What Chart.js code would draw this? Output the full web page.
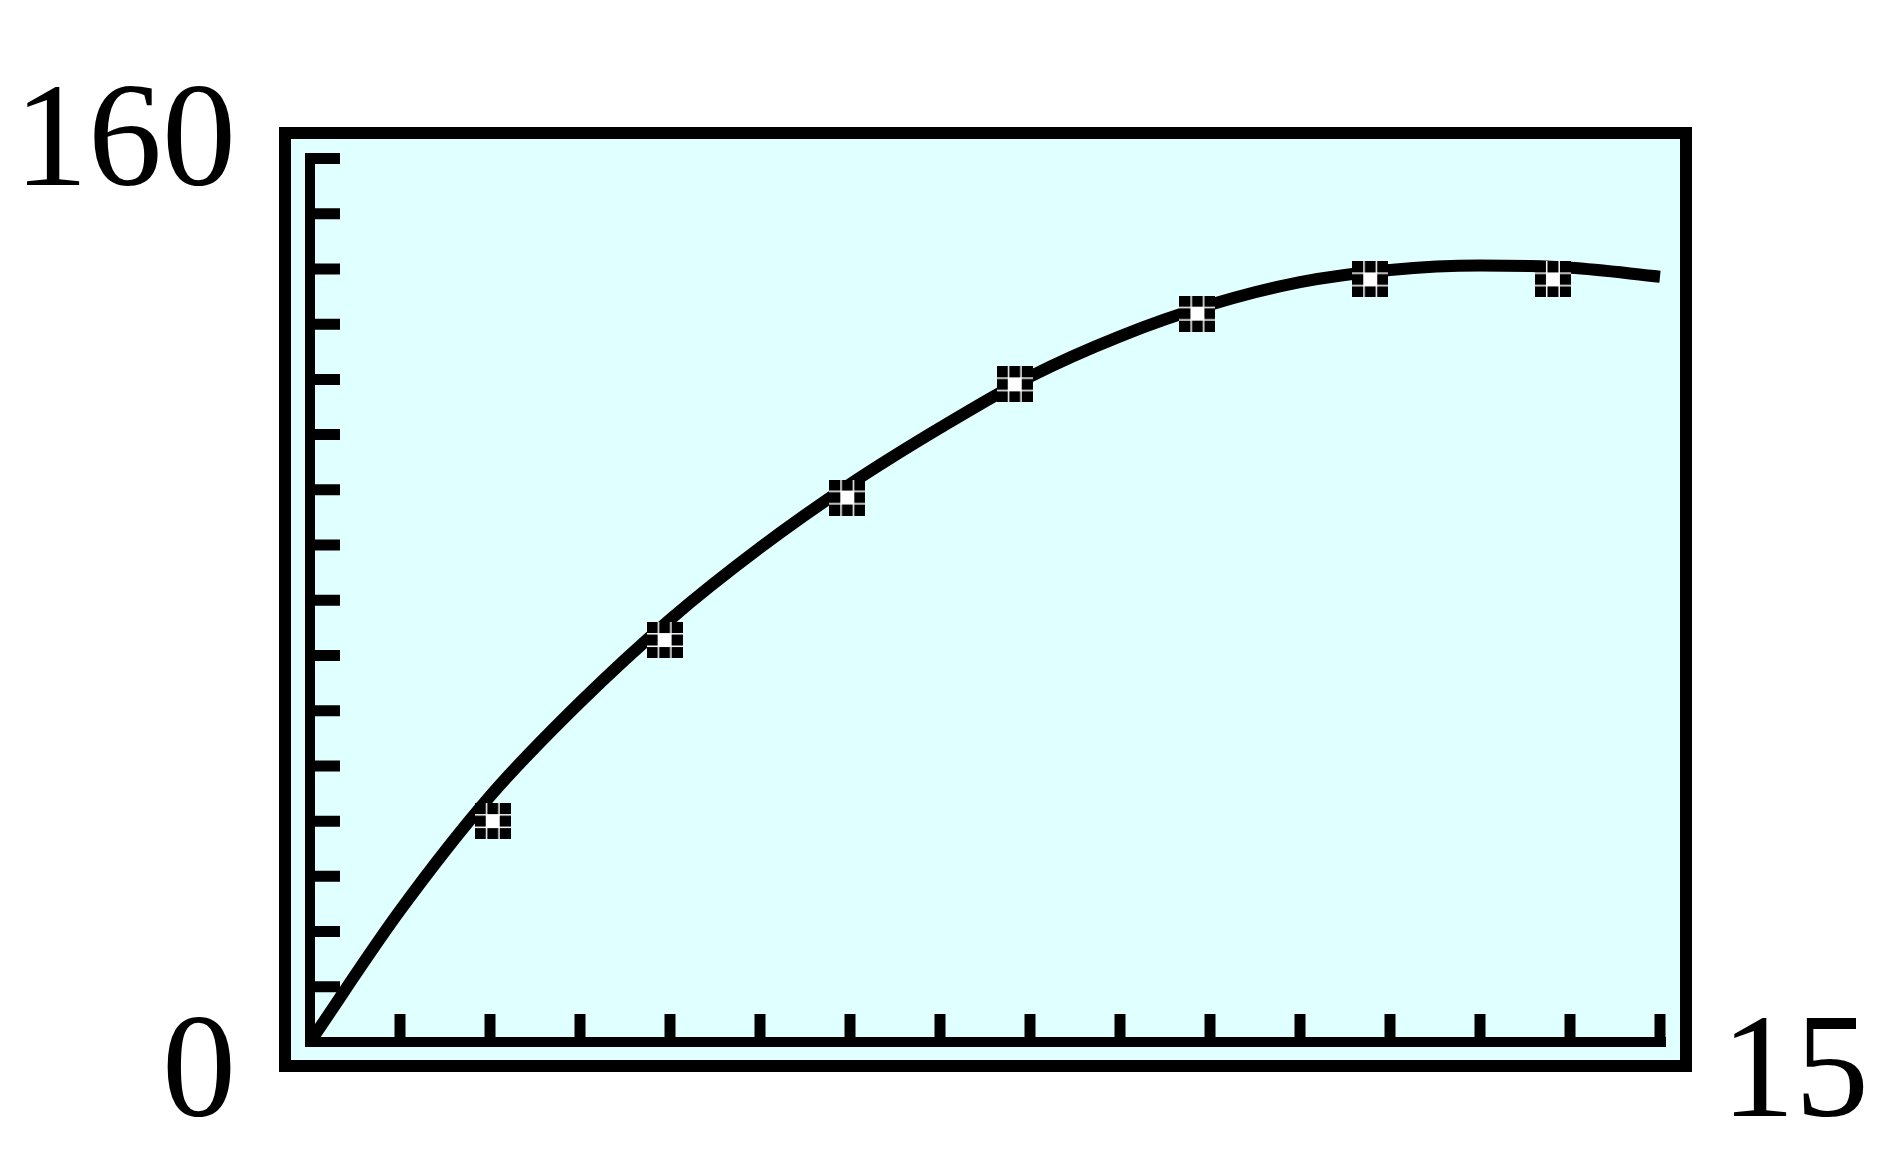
<!DOCTYPE html>
<html>
<head>
<meta charset="utf-8">
<script src="https://cdn.jsdelivr.net/npm/chart.js@4/dist/chart.umd.min.js"></script>
<style>
  html, body { margin: 0; padding: 0; background: #ffffff; }
  #wrap { width: 1890px; height: 1170px; }
  #fontprobe { position: absolute; left: -9999px; top: 0; font: 148px "Liberation Serif"; }
</style>
</head>
<body>
<span id="fontprobe">0156</span>
<div id="wrap"><canvas id="chart" width="1890" height="1170"></canvas></div>
<script>
// Fenster (Xmin/Xmax, Ymin/Ymax) wie auf dem Rechner
const xWindow = [0, 15];
const yWindow = [0, 160];

// Teilstriche: x alle 1, y alle 10
const xTickValues = [1, 2, 3, 4, 5, 6, 7, 8, 9, 10, 11, 12, 13, 14, 15];
const yTickValues = [10, 20, 30, 40, 50, 60, 70, 80, 90, 100, 110, 120, 130, 140, 150, 160];

// Messpunkte
const pointX = [2.03, 3.94, 5.97, 7.83, 9.86, 11.78, 13.81];
const pointY = [40, 72.8, 98.6, 119.1, 131.9, 138.1, 138.1];

const curveX = [0, 1, 2, 3, 4, 5, 6, 7, 8, 9, 10, 11, 12, 13, 14, 15];
const curveY = [0, 23.8, 44.5, 61.5, 76.5, 89.5, 101, 111.2, 120.5, 127.8, 133.5, 137.6, 139.8, 140.6, 140.2, 138.6];

const serif = '148px "Liberation Serif", "Times New Roman", serif';

// Marker: 3x3 Kästchen, Mitte weiß
function makeMarker() {
    const c = document.createElement('canvas');
    c.width = 36; c.height = 36;
    const g = c.getContext('2d');
    g.fillStyle = '#ffffff';
    g.fillRect(0, 0, 36, 36);
    g.fillStyle = '#000000';
    for (let r = 0; r < 3; r++) {
        for (let k = 0; k < 3; k++) {
            if (r === 1 && k === 1) continue;
            g.fillRect(k * 12.5, r * 12.5, 11, 11);
        }
    }
    return c;
}

const frame = {
    id: 'frame',
    beforeDatasetsDraw(chart) {
        const ctx = chart.ctx;
        const xs = chart.scales.x, ys = chart.scales.y;
        const x0 = xs.getPixelForValue(xWindow[0]);
        const x1 = xs.getPixelForValue(xWindow[1]);
        const y0 = ys.getPixelForValue(yWindow[0]);
        const y1 = ys.getPixelForValue(yWindow[1]);
        ctx.save();

        // Rahmen mit hellem Cyan
        ctx.fillStyle = '#e0ffff';
        ctx.fillRect(285, 133, 1401, 933);
        ctx.strokeStyle = '#000';
        ctx.lineWidth = 12;
        ctx.strokeRect(285, 133, 1401, 933);

        // Achsen
        ctx.lineWidth = 10;
        ctx.lineCap = 'butt';
        ctx.beginPath();
        ctx.moveTo(x0, y1 - 5.5);
        ctx.lineTo(x0, y0 + 5);
        ctx.moveTo(x0 - 5, y0);
        ctx.lineTo(x1 + 6, y0);
        ctx.stroke();

        // Teilstriche
        ctx.lineWidth = 11;
        ctx.beginPath();
        xTickValues.forEach(function(v) {
            const px = xs.getPixelForValue(v);
            ctx.moveTo(px, y0);
            ctx.lineTo(px, y0 - 28);
        });
        yTickValues.forEach(function(v) {
            const py = ys.getPixelForValue(v);
            ctx.moveTo(x0, py);
            ctx.lineTo(x0 + 30, py);
        });
        ctx.stroke();

        // Fensterwerte
        ctx.fillStyle = '#000';
        ctx.font = serif;
        ctx.textBaseline = 'alphabetic';
        ctx.textAlign = 'right';
        ctx.fillText(String(yWindow[1]), 236, 185);
        ctx.fillText(String(yWindow[0]), 236, 1116);
        ctx.textAlign = 'left';
        ctx.fillText(String(xWindow[1]), 1721, 1116);
        ctx.restore();
    }
};

function draw() {
    new Chart(document.getElementById('chart'), {
        type: 'scatter',
        data: {
            datasets: [
                {
                    label: 'Daten',
                    data: pointX.map(function(x, i) { return { x: x, y: pointY[i] }; }),
                    pointStyle: makeMarker(),
                    pointRadius: 18,
                    showLine: false,
                    clip: false,
                    order: 0
                },
                {
                    label: 'Regression',
                    data: curveX.map(function(x, i) { return { x: x, y: curveY[i] }; }),
                    showLine: true,
                    borderColor: '#000',
                    borderWidth: 12,
                    pointRadius: 0,
                    cubicInterpolationMode: 'monotone',
                    fill: false,
                    clip: false,
                    order: 1
                }
            ]
        },
        options: {
            responsive: false,
            animation: false,
            events: [],
            layout: {
                padding: { left: 310, right: 230, top: 158.5, bottom: 128 }
            },
            plugins: {
                legend: { display: false },
                tooltip: { enabled: false }
            },
            scales: {
                x: { type: 'linear', min: xWindow[0], max: xWindow[1], display: false },
                y: { type: 'linear', min: yWindow[0], max: yWindow[1], display: false }
            }
        },
        plugins: [frame]
    });
}

if (document.fonts && document.fonts.load) {
    document.fonts.load(serif, '0156').then(draw, draw);
} else {
    draw();
}
</script>
</body>
</html>
